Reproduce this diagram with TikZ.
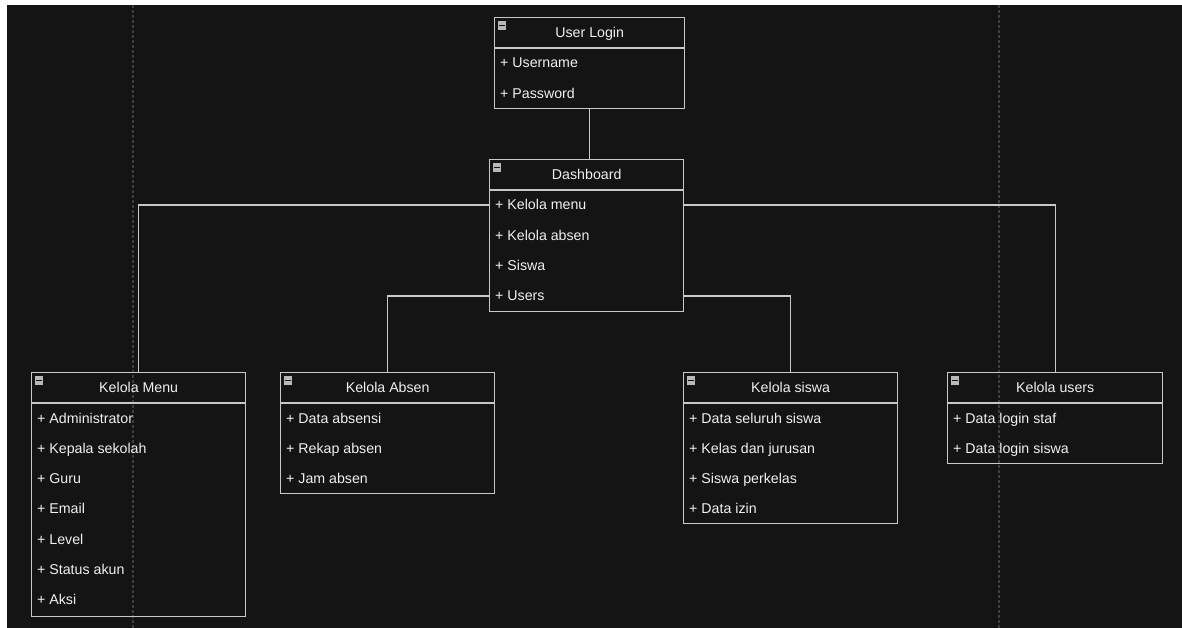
\documentclass[tikz,border=0pt]{standalone}
\usepackage{fontspec}
\setmainfont{Liberation Sans}
\definecolor{bgdark}{HTML}{141414}
\definecolor{linegray}{HTML}{C8C8C8}
\definecolor{txt}{HTML}{F0F0F0}
\definecolor{guide}{HTML}{3E3E3E}
\definecolor{icongray}{HTML}{B8B8B8}
\tikzset{
  umlbox/.style={draw=linegray, line width=1.4pt, rectangle, inner sep=0pt, anchor=north west},
  sepline/.style={draw=linegray, line width=1.4pt},
  hdr/.style={text=txt, font=\fontsize{14.2}{16}\selectfont, inner sep=0pt, anchor=base},
  attr/.style={text=txt, font=\fontsize{14.2}{16}\selectfont, inner sep=0pt, anchor=base west},
  conn/.style={draw=linegray, line width=1.4pt},
  guideline/.style={draw=guide, line width=1.2pt, dash pattern=on 3pt off 2pt},
}
\newcommand\umlclass[7]{%
  \node[umlbox, minimum width=#4pt, minimum height=#5pt] (#1) at (#2,#3) {};
  \draw[sepline] ([yshift=-31pt]#1.north west) -- ([yshift=-31pt]#1.north east);
  \fill[icongray] ([xshift=4pt,yshift=-4pt]#1.north west) rectangle ++(8pt,-9pt);
  \draw[bgdark, line width=1pt] ([xshift=5pt,yshift=-8.5pt]#1.north west) -- ++(6pt,0pt);
  \node[hdr] (#1-t) at ([yshift=-20.5pt]#1.north) {#6};
  \foreach \r [count=\i] in {#7} {
    \node[attr] (#1-r\i) at ([xshift=6pt,yshift={-51pt-30.3pt*(\i-1)}]#1.north west) {\r};
  }%
}
\begin{document}
\begin{tikzpicture}[x=1pt,y=-1pt]
  \useasboundingbox (0,0) rectangle (1182,628);
  \fill[white] (0,0) rectangle (1182,628);
  \fill[bgdark] (7,5) rectangle (1182,628);
  \draw[guideline] (133,5) -- (133,628);
  \draw[guideline] (999,5) -- (999,628);

  \umlclass{login}{494}{17}{190}{91}{User Login}{+ Username,+ Password}
  \umlclass{dash}{489}{159}{194}{152}{Dashboard}{+ Kelola menu,+ Kelola absen,+ Siswa,+ Users}
  \umlclass{menu}{31}{372}{214}{244}{Kelola Menu}{+ Administrator,+ Kepala sekolah,+ Guru,+ Email,+ Level,+ Status akun,+ Aksi}
  \umlclass{absen}{280}{372}{214}{121}{Kelola Absen}{+ Data absensi,+ Rekap absen,+ Jam absen}
  \umlclass{siswa}{683}{372}{214}{151}{Kelola siswa}{+ Data seluruh siswa,+ Kelas dan jurusan,+ Siswa perkelas,+ Data izin}
  \umlclass{users}{947}{372}{215}{91}{Kelola users}{+ Data login staf,+ Data login siswa}

  \coordinate (rowA) at (589,205);
  \coordinate (rowB) at (589,296);
  \draw[conn] (login.south) -- (login.south |- dash.north);
  \draw[conn] (dash.west |- rowA) -| (menu.north);
  \draw[conn] (dash.east |- rowA) -| (users.north);
  \draw[conn] (dash.west |- rowB) -| (absen.north);
  \draw[conn] (dash.east |- rowB) -| (siswa.north);
\end{tikzpicture}
\end{document}
